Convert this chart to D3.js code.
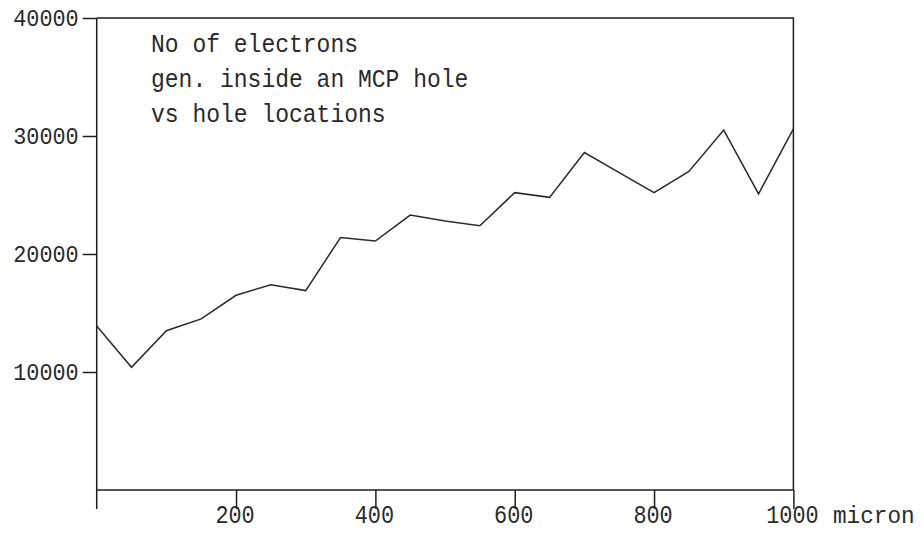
<!DOCTYPE html>
<html>
<head>
<meta charset="utf-8">
<script src="https://cdn.jsdelivr.net/npm/d3@7"></script>
<style>
  html, body { margin: 0; padding: 0; background: #fff; }
  svg { display: block; }
  text { font-family: "Liberation Mono", "DejaVu Sans Mono", monospace; fill: #2a2a2a; }
</style>
</head>
<body>
<script>
// Hole location along the plate (micron)
const positions = [0, 50, 100, 150, 200, 250, 300, 350, 400, 450, 500,
                   550, 600, 650, 700, 750, 800, 850, 900, 950, 1000];
// Number of electrons generated inside an MCP hole
const electrons = [13900, 10400, 13500, 14500, 16500, 17400, 16900, 21400, 21100, 23300, 22800,
                   22400, 25200, 24800, 28600, 26900, 25200, 27000, 30500, 25100, 30600];
const xTicks = [200, 400, 600, 800, 1000];
const yTicks = [10000, 20000, 30000, 40000];
const xUnit = "micron";
const titleLines = ["No of electrons", "gen. inside an MCP hole", "vs hole locations"];

const W = 923, H = 535;
const plotLeft = 96.7, plotRight = 793.4, plotTop = 18, plotBottom = 490;
const charW = 13.1;
const ink = "#1e1e1e";

const svg = d3.select("body").append("svg").attr("width", W).attr("height", H);

const x = d3.scaleLinear().domain([0, 1000]).range([plotLeft, plotRight]);
const y = d3.scaleLinear().domain([0, 40000]).range([plotBottom, plotTop]);

// Frame: top and right edges
svg.append("path")
  .attr("d", `M${plotLeft},${plotTop}H${plotRight}V${plotBottom}`)
  .attr("fill", "none").attr("stroke", ink).attr("stroke-width", 1.5);

// Left axis (extends below the baseline)
const yAxis = svg.append("g").attr("transform", `translate(${plotLeft},0)`)
  .call(d3.axisLeft(y).tickValues(yTicks).tickSize(14).tickSizeOuter(0).tickFormat(d3.format("d")));
yAxis.select(".domain").remove();
yAxis.selectAll(".tick line").attr("stroke", ink).attr("stroke-width", 1.5);
yAxis.selectAll(".tick text")
  .attr("x", -18).attr("dy", null).attr("y", 7)
  .style("font-size", "24px").attr("fill", "#2a2a2a")
  .each(function () {
    const t = d3.select(this);
    t.attr("textLength", t.text().length * charW).attr("lengthAdjust", "spacingAndGlyphs");
  });
svg.append("line").attr("x1", plotLeft).attr("x2", plotLeft).attr("y1", plotTop).attr("y2", plotBottom + 19)
  .attr("stroke", ink).attr("stroke-width", 1.5);

// Bottom axis: ticks drop into the labels
const xAxis = svg.append("g").attr("transform", `translate(0,${plotBottom})`)
  .call(d3.axisBottom(x).tickValues(xTicks).tickSize(19).tickSizeOuter(0).tickFormat(d3.format("d")));
xAxis.select(".domain").remove();
xAxis.selectAll(".tick line").attr("stroke", ink).attr("stroke-width", 1.5);
xAxis.selectAll(".tick text")
  .attr("y", 33).attr("dy", null).attr("x", -1.5)
  .style("font-size", "25px").attr("fill", "#2a2a2a")
  .each(function () {
    const t = d3.select(this);
    t.attr("textLength", t.text().length * charW).attr("lengthAdjust", "spacingAndGlyphs");
  });
svg.append("line").attr("x1", plotLeft).attr("x2", plotRight).attr("y1", plotBottom).attr("y2", plotBottom)
  .attr("stroke", ink).attr("stroke-width", 1.5);

svg.append("text")
  .attr("x", 833).attr("y", plotBottom + 33)
  .attr("textLength", xUnit.length * 13.6).attr("lengthAdjust", "spacingAndGlyphs")
  .style("font-size", "24px")
  .text(xUnit);

// Title block inside the plot
svg.selectAll("text.title").data(titleLines).join("text")
  .attr("class", "title")
  .attr("x", 151)
  .attr("y", (d, i) => 52 + i * 35)
  .attr("textLength", d => d.length * 13.8).attr("lengthAdjust", "spacingAndGlyphs")
  .style("font-size", "25px")
  .text(d => d);

// Data line
const line = d3.line().x((d, i) => x(positions[i])).y(d => y(d));
svg.append("path")
  .datum(electrons)
  .attr("d", line)
  .attr("fill", "none").attr("stroke", "#2a2a2a").attr("stroke-width", 1.5);
</script>
</body>
</html>
